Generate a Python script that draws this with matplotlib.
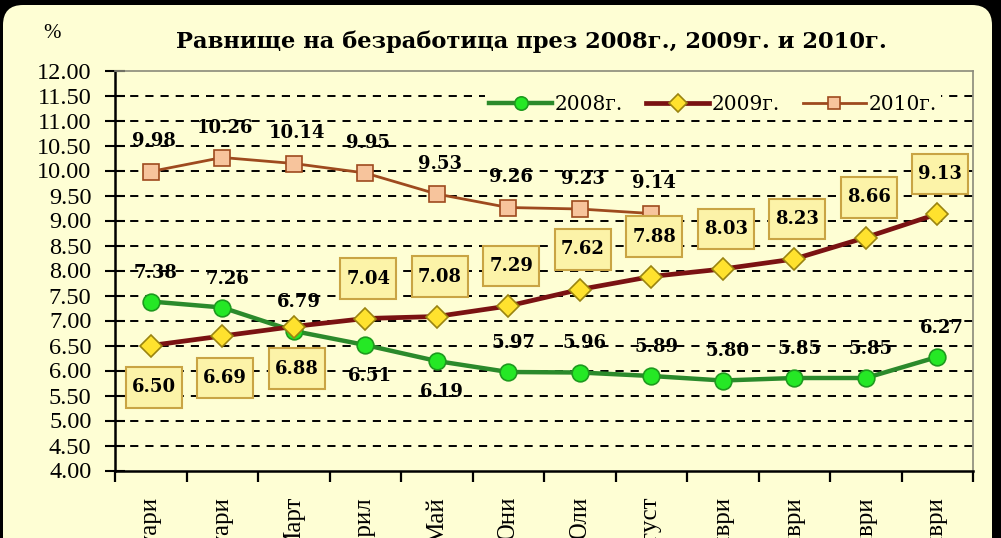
import matplotlib
matplotlib.use("Agg")
import matplotlib.pyplot as plt
from matplotlib.path import Path
from matplotlib.patches import FancyBboxPatch

# ---------------- data ----------------
months = ["Януари", "Февруари", "Март", "Април", "Май", "Юни", "Юли",
          "Август", "Септември", "Октомври", "Ноември", "Декември"]
y2008 = [7.38, 7.26, 6.79, 6.51, 6.19, 5.97, 5.96, 5.89, 5.80, 5.85, 5.85, 6.27]
y2009 = [6.50, 6.69, 6.88, 7.04, 7.08, 7.29, 7.62, 7.88, 8.03, 8.23, 8.66, 9.13]
y2010 = [9.98, 10.26, 10.14, 9.95, 9.53, 9.26, 9.23, 9.14]
series_names = ["2008г.", "2009г.", "2010г."]
title = "Равнище на безработица през 2008г., 2009г. и 2010г."
yticks = [4.0 + 0.5 * i for i in range(17)]

# label placement (+1 above point, -1 below point)
side2008 = [1, 1, 1, -1, -1, 1, 1, 1, 1, 1, 1, 1]
side2009 = [-1, -1, -1, 1, 1, 1, 1, 1, 1, 1, 1, 1]

# ---------------- style ----------------
CREAM = "#FEFED4"
plt.rcParams["font.family"] = ["Liberation Serif", "DejaVu Serif"]

fig = plt.figure(figsize=(10.01, 5.38), dpi=100)
fig.patch.set_facecolor("black")
bg = FancyBboxPatch((3 / 1001, -0.2), (992 - 3) / 1001, 1.2 - 5 / 538,
                    boxstyle="round,pad=0,rounding_size=0.02",
                    transform=fig.transFigure, facecolor=CREAM,
                    edgecolor="none", mutation_aspect=1001 / 538, zorder=-10)
fig.patches.append(bg)

ax = fig.add_axes([115 / 1001, 67.5 / 538, (973 - 115) / 1001, 400 / 538])
ax.set_zorder(1)
ax.set_facecolor(CREAM)

x08 = [i + 0.5 for i in range(len(y2008))]
x09 = [i + 0.5 for i in range(len(y2009))]
x10 = [i + 0.5 for i in range(len(y2010))]

ax.plot(x08, y2008, color="#2B8A2B", lw=3.2, marker="o", ms=12,
        mfc="#25E825", mec="#1E9A1E", mew=1.2, label=series_names[0], zorder=4)
ax.plot(x09, y2009, color="#7A1212", lw=3.4, marker="D", ms=11,
        mfc="#FFE22E", mec="#9A8410", mew=1.2, label=series_names[1], zorder=4)
ax.plot(x10, y2010, color="#9E4A1E", lw=2.0, marker="s", ms=11,
        mfc="#F7C49C", mec="#9E4A1E", mew=1.2, label=series_names[2], zorder=3)

ax.set_xlim(0, 12)
ax.set_ylim(4, 12)
ax.set_yticks(yticks)
ax.set_yticklabels([f"{v:.2f}" for v in yticks], fontsize=17.5)
ax.set_xticks(range(13))
ax.set_xticklabels([])
ax.set_xticks(x08, minor=True)
ax.set_xticklabels(months, minor=True, rotation=90, fontsize=18, va="top")
ax.tick_params(axis="x", which="major", direction="out", length=8, width=1.6, color="black")
ax.tick_params(axis="x", which="minor", length=0, pad=19)
ax.tick_params(axis="y", direction="inout", length=14, width=1.5, pad=10)

ax.yaxis.grid(True, color="black", lw=1.4, linestyle=(0, (4.2, 3.6)))
ax.set_axisbelow(True)
for gl, v in zip(ax.get_ygridlines(), yticks):
    if v in (4.0, 12.0):
        gl.set_visible(False)

ax.spines["left"].set_color("black")
ax.spines["left"].set_linewidth(1.8)
ax.spines["bottom"].set_color("black")
ax.spines["bottom"].set_linewidth(1.8)
for s in ("top", "right"):
    ax.spines[s].set_color("#8A8A7A")
    ax.spines[s].set_linewidth(1.2)


def wide_box(x0, y0, width, height, mutation_size):
    px = 0.33 * mutation_size
    py = 0.62 * mutation_size
    verts = [(x0 - px, y0 - py), (x0 + width + px, y0 - py),
             (x0 + width + px, y0 + height + py), (x0 - px, y0 + height + py),
             (x0 - px, y0 - py)]
    return Path(verts, closed=True)


lab_font = dict(family="DejaVu Serif", fontsize=13, fontweight="bold", color="black")

for x, v, s in zip(x08, y2008, side2008):
    ax.annotate(f"{v:.2f}", (x, v), xytext=(5, 29 if s > 0 else -31),
                textcoords="offset pixels", ha="center", va="center",
                zorder=6, **lab_font)
for x, v, s in zip(x09, y2009, side2009):
    ax.annotate(f"{v:.2f}", (x, v), xytext=(3, 40 if s > 0 else -42),
                textcoords="offset pixels", ha="center", va="center",
                zorder=7, bbox=dict(boxstyle=wide_box, facecolor="#FCF3A8",
                                    edgecolor="#C9A444", lw=1.5), **lab_font)
for x, v in zip(x10, y2010):
    ax.annotate(f"{v:.2f}", (x, v), xytext=(3, 30),
                textcoords="offset pixels", ha="center", va="center",
                zorder=6, **lab_font)

leg = ax.legend(loc="center left", bbox_to_anchor=(0.42, 0.914), ncol=3,
                frameon=True, facecolor=CREAM, edgecolor="none", framealpha=1,
                prop=dict(family="DejaVu Serif", size=14.5),
                handlelength=3.1, handletextpad=0.15, markerscale=0.8,
                columnspacing=1.15, borderpad=0.2, numpoints=1)
leg.set_zorder(8)

fig.text(531 / 1001, 1 - 42 / 538, title, ha="center", va="center",
         family="DejaVu Serif", fontsize=16.3, fontweight="bold")
fig.text(52 / 1001, 1 - 33 / 538, "%", ha="center", va="center", fontsize=15)

fig.savefig("out.png", dpi=100, facecolor=fig.get_facecolor())
